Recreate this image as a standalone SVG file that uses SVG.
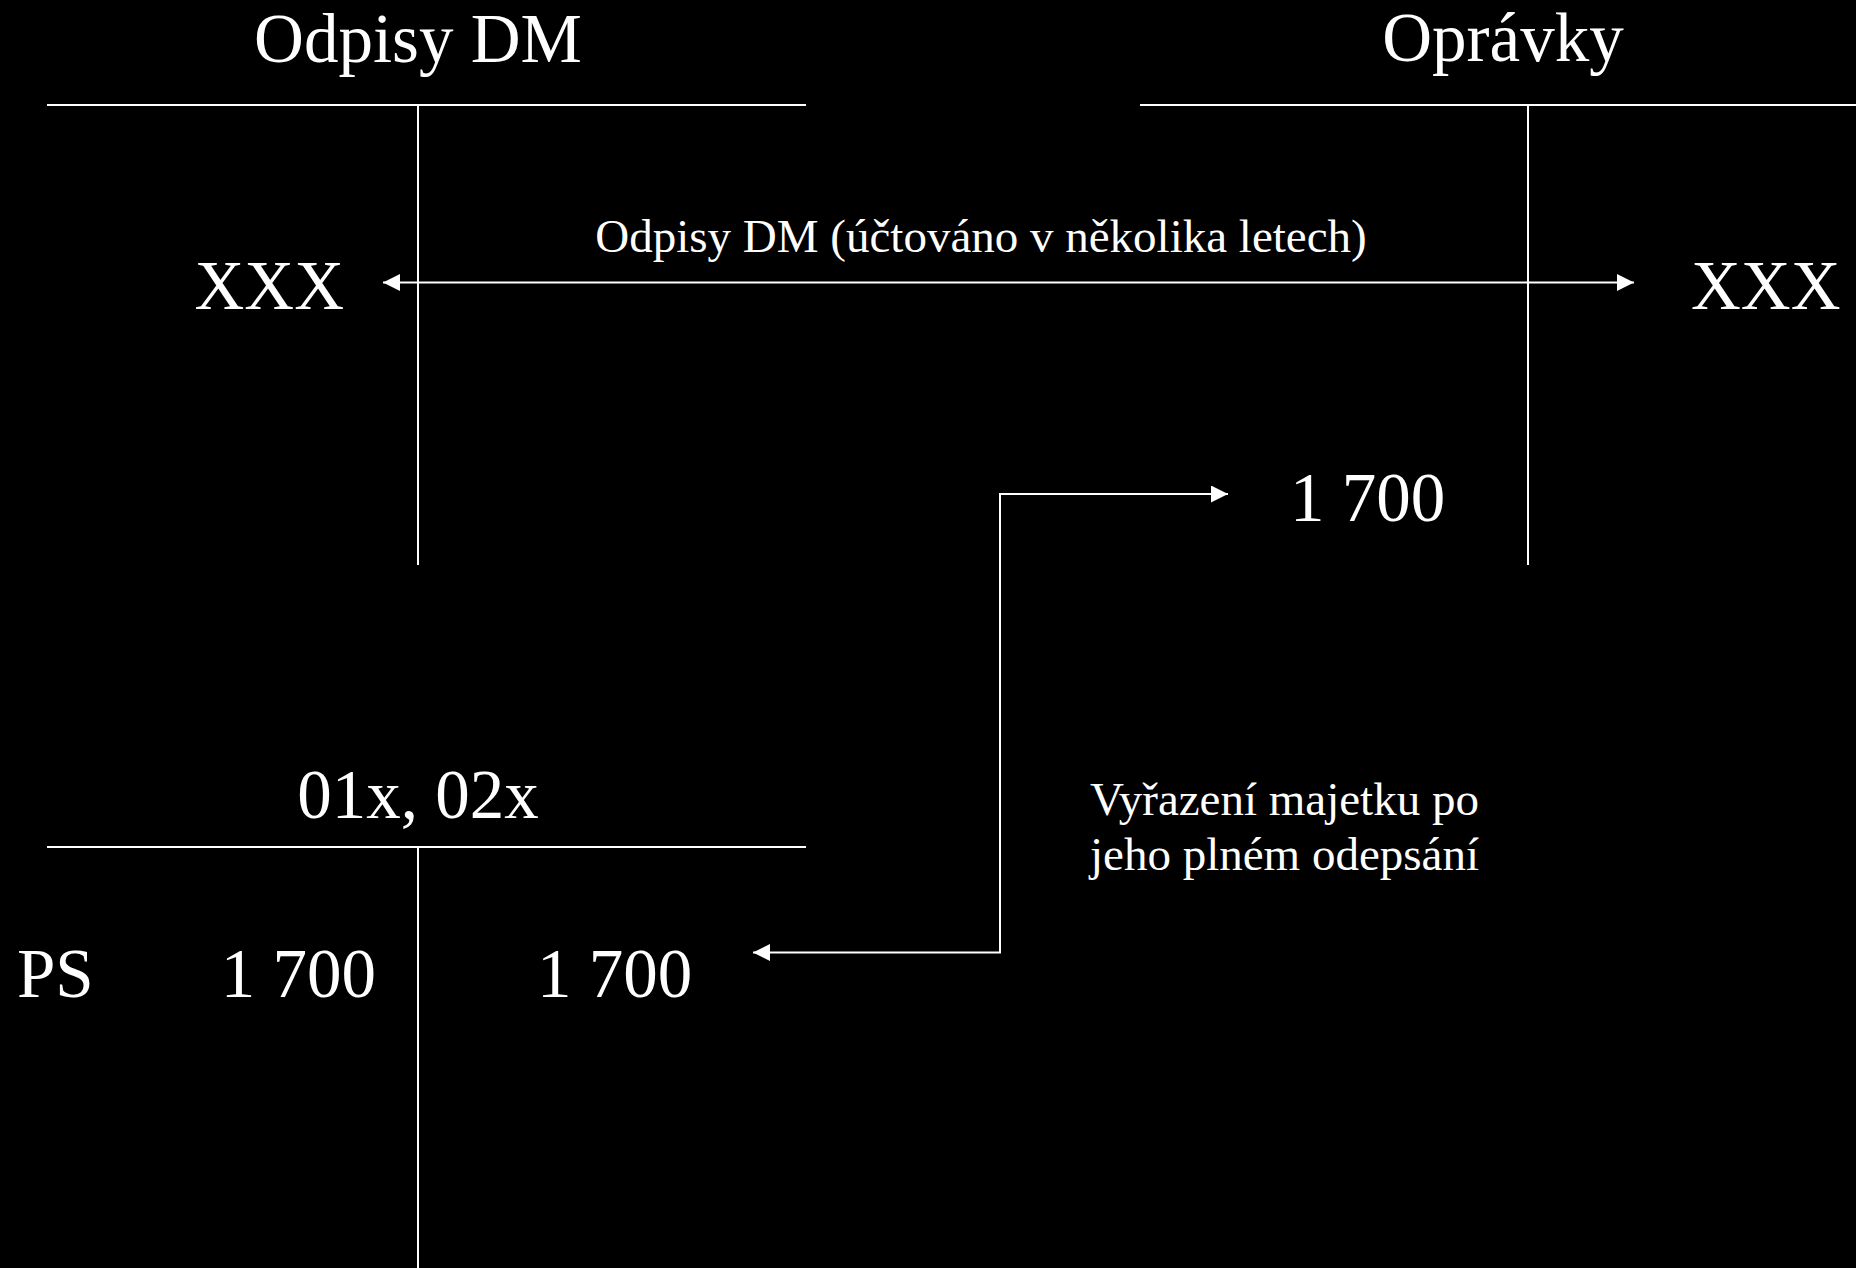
<svg xmlns="http://www.w3.org/2000/svg" width="1856" height="1268" viewBox="0 0 1856 1268">
<style>
.bg{fill:#000}
.ln{stroke:#fff;stroke-width:2;fill:none}
.big{font-family:"Liberation Serif","Times New Roman",serif;font-size:69px;fill:#fff}
.sm{font-family:"Liberation Serif","Times New Roman",serif;font-size:47px;fill:#fff}
</style>
<defs>
<marker id="ah" markerUnits="userSpaceOnUse" markerWidth="18" markerHeight="18" refX="17" refY="8.5" orient="auto-start-reverse">
<path d="M0,0 L17,8.5 L0,17 Z" fill="#fff"/>
</marker>
</defs>
<rect class="bg" x="0" y="0" width="1856" height="1268"/>
<g id="odpisy-dm">
<line class="ln" x1="47" y1="105" x2="806" y2="105"/>
<line class="ln" x1="418" y1="105" x2="418" y2="565"/>
<text class="big" x="418" y="62" text-anchor="middle">Odpisy DM</text>
<text class="big" x="344" y="309" text-anchor="end">XXX</text>
</g>
<g id="opravky">
<line class="ln" x1="1140" y1="105" x2="1856" y2="105"/>
<line class="ln" x1="1528" y1="105" x2="1528" y2="565"/>
<text class="big" x="1503" y="61" text-anchor="middle">Oprávky</text>
<text class="big" x="1691" y="309">XXX</text>
<text class="big" x="1290" y="521">1 700</text>
</g>
<g id="ucet-01x-02x">
<line class="ln" x1="47" y1="847" x2="806" y2="847"/>
<line class="ln" x1="418" y1="847" x2="418" y2="1268"/>
<text class="big" x="418" y="818" text-anchor="middle">01x, 02x</text>
<text class="big" x="17" y="997">PS</text>
<text class="big" x="376" y="997" text-anchor="end">1 700</text>
<text class="big" x="537" y="997">1 700</text>
</g>
<g id="connectors">
<line class="ln" x1="383" y1="282.5" x2="1634" y2="282.5" marker-start="url(#ah)" marker-end="url(#ah)"/>
<text class="sm" x="981" y="252" text-anchor="middle">Odpisy DM (účtováno v několika letech)</text>
<polyline class="ln" points="753,952.5 1000,952.5 1000,494 1228,494" marker-start="url(#ah)" marker-end="url(#ah)"/>
<text class="sm" x="1090" y="815">Vyřazení majetku po</text>
<text class="sm" x="1090" y="870">jeho plném odepsání</text>
</g>
</svg>
